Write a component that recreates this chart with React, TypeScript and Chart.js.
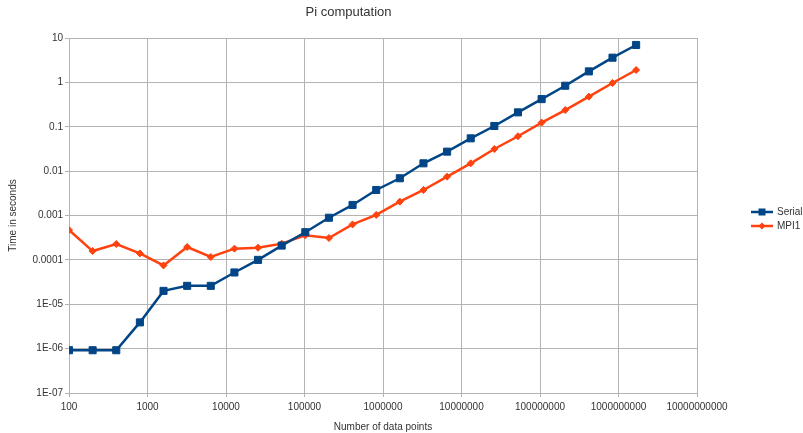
import React, { useEffect, useRef } from "react";
import { Chart, registerables } from "chart.js";

Chart.register(...registerables);

const dataPoints = [
  100, 200, 400, 800, 1600, 3200, 6400, 12800, 25600, 51200, 102400, 204800,
  409600, 819200, 1638400, 3276800, 6553600, 13107200, 26214400, 52428800,
  104857600, 209715200, 419430400, 838860800, 1677721600,
];

const serialTimes = [
  9.2e-7, 9.2e-7, 9.2e-7, 3.9e-6, 2.0e-5, 2.6e-5, 2.6e-5, 5.2e-5, 1.0e-4,
  2.1e-4, 4.2e-4, 8.9e-4, 1.73e-3, 3.76e-3, 6.9e-3, 0.015, 0.0275, 0.0548,
  0.104, 0.211, 0.42, 0.84, 1.77, 3.6, 6.96,
];

const mpi1Times = [
  4.7e-4, 1.58e-4, 2.28e-4, 1.4e-4, 7.5e-5, 1.95e-4, 1.16e-4, 1.79e-4, 1.88e-4,
  2.32e-4, 3.57e-4, 3.11e-4, 6.3e-4, 1.03e-3, 2.05e-3, 3.76e-3, 7.5e-3, 0.015,
  0.0315, 0.061, 0.124, 0.238, 0.476, 0.968, 1.9,
];

const xTickValues = [100, 1000, 10000, 100000, 1000000, 10000000, 100000000, 1000000000, 10000000000];
const xTickLabels = ["100", "1000", "10000", "100000", "1000000", "10000000", "100000000", "1000000000", "10000000000"];

const yTickValues = [1e-7, 1e-6, 1e-5, 1e-4, 1e-3, 1e-2, 1e-1, 1, 10];
const yTickLabels = ["1E-07", "1E-06", "1E-05", "0.0001", "0.001", "0.01", "0.1", "1", "10"];

const FONT = "'Liberation Sans', Arial, sans-serif";
const GRID = "#b3b3b3";
const TEXT = "#333333";

const labelFor = (vals: number[], labels: string[], v: number) => {
  for (let i = 0; i < vals.length; i++) {
    if (Math.abs(Math.log10(vals[i]) - Math.log10(v)) < 1e-6) return labels[i];
  }
  return "";
};

const legendPlugin = {
  id: "customLegend",
  afterDraw(chart: any) {
    const ctx = chart.ctx;
    const x0 = chart.chartArea.right + 54;
    const y0 = 212;
    ctx.save();
    chart.data.datasets.forEach((ds: any, i: number) => {
      const y = y0 + i * 14;
      ctx.strokeStyle = ds.borderColor;
      ctx.lineWidth = 2.5;
      ctx.beginPath();
      ctx.moveTo(x0, y);
      ctx.lineTo(x0 + 22, y);
      ctx.stroke();
      ctx.fillStyle = ds.borderColor;
      ctx.beginPath();
      if (ds.pointStyle === "rect") {
        ctx.rect(x0 + 11 - 3.5, y - 3.5, 7, 7);
      } else {
        ctx.moveTo(x0 + 11 - 3.5, y);
        ctx.lineTo(x0 + 11, y - 3.5);
        ctx.lineTo(x0 + 11 + 3.5, y);
        ctx.lineTo(x0 + 11, y + 3.5);
        ctx.closePath();
      }
      ctx.fill();
      ctx.fillStyle = TEXT;
      ctx.font = `10px ${FONT}`;
      ctx.textAlign = "left";
      ctx.textBaseline = "middle";
      ctx.fillText(ds.label, x0 + 26, y);
    });
    ctx.restore();
  },
};

export default function App() {
  const ref = useRef<HTMLCanvasElement | null>(null);

  useEffect(() => {
    if (!ref.current) return;
    const chart = new Chart(ref.current, {
      type: "line",
      data: {
        datasets: [
          {
            label: "Serial",
            data: dataPoints.map((x, i) => ({ x, y: serialTimes[i] })),
            borderColor: "#004586",
            backgroundColor: "#004586",
            pointBackgroundColor: "#004586",
            pointBorderColor: "#004586",
            borderWidth: 2.5,
            pointStyle: "rect",
            pointRadius: 5,
            pointBorderWidth: 1,
            tension: 0,
          },
          {
            label: "MPI1",
            data: dataPoints.map((x, i) => ({ x, y: mpi1Times[i] })),
            borderColor: "#ff420e",
            backgroundColor: "#ff420e",
            pointBackgroundColor: "#ff420e",
            pointBorderColor: "#ff420e",
            borderWidth: 2.5,
            pointStyle: "rectRot",
            pointRadius: 3.5,
            pointBorderWidth: 1,
            tension: 0,
          },
        ],
      },
      options: {
        animation: false,
        responsive: false,
        devicePixelRatio: 1,
        layout: { padding: { left: 0, right: 106, top: 0, bottom: 0 } },
        plugins: {
          legend: { display: false },
          tooltip: { enabled: false },
          title: {
            display: true,
            text: "Pi computation",
            color: TEXT,
            font: { family: FONT, size: 13, weight: "normal" },
            padding: { top: 5, bottom: 17.4 },
          },
        },
        scales: {
          x: {
            type: "logarithmic",
            min: 100,
            max: 10000000000,
            afterBuildTicks: (scale: any) => {
              scale.ticks = xTickValues.map((v) => ({ value: v }));
            },
            afterFit: (scale: any) => {
              scale.height = 40;
            },
            ticks: {
              color: TEXT,
              font: { family: FONT, size: 10 },
              padding: 4,
              maxRotation: 0,
              autoSkip: false,
              callback: (v: any) => labelFor(xTickValues, xTickLabels, Number(v)),
            },
            grid: { color: GRID, lineWidth: 1, tickLength: 4, drawTicks: true },
            border: { color: GRID },
            title: {
              display: true,
              text: "Number of data points",
              color: TEXT,
              font: { family: FONT, size: 10 },
              padding: 0,
            },
          },
          y: {
            type: "logarithmic",
            min: 1e-7,
            max: 10,
            afterBuildTicks: (scale: any) => {
              scale.ticks = yTickValues.map((v) => ({ value: v }));
            },
            afterFit: (scale: any) => {
              scale.width = 69;
            },
            ticks: {
              color: TEXT,
              font: { family: FONT, size: 10 },
              padding: 2,
              autoSkip: false,
              callback: (v: any) => labelFor(yTickValues, yTickLabels, Number(v)),
            },
            grid: { color: GRID, lineWidth: 1, tickLength: 4, drawTicks: true },
            border: { color: GRID },
            title: {
              display: true,
              text: "Time in seconds",
              color: TEXT,
              font: { family: FONT, size: 10 },
              padding: 7,
            },
          },
        },
      },
      plugins: [legendPlugin],
    } as any);
    return () => chart.destroy();
  }, []);

  return (
    <div style={{ position: "fixed", left: 0, top: 0, width: 803, height: 433, background: "#fff" }}>
      <canvas ref={ref} width={803} height={433} style={{ display: "block" }} />
    </div>
  );
}
